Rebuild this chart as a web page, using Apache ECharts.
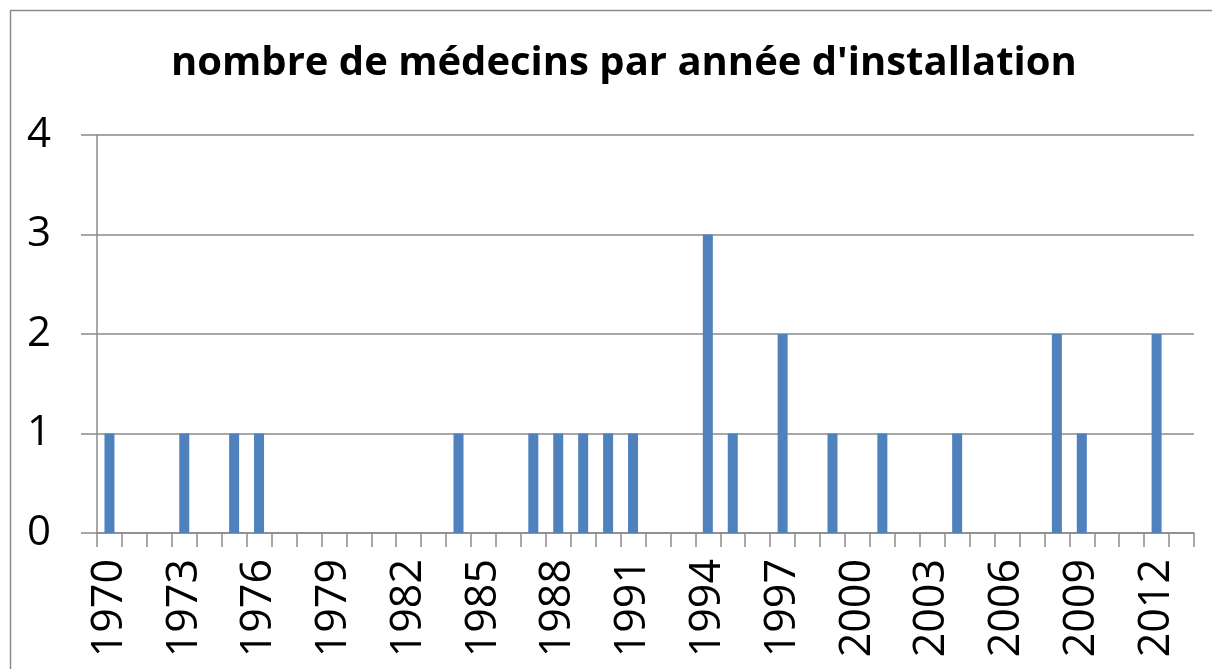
<!DOCTYPE html>
<html>
<head>
<meta charset="utf-8">
<script src="https://cdn.jsdelivr.net/npm/echarts@6/dist/echarts.min.js"></script>
<style>
  html, body { margin: 0; padding: 0; background: #fff; }
  #chart { width: 1212px; height: 669px; }
</style>
</head>
<body>
<div id="chart"></div>
<script>
const title = "nombre de médecins par année d'installation"
const years = []
for (let y = 1970; y <= 2013; y++) years.push(String(y))

// nombre de médecins installés chaque année (0 sinon)
const installs = {
  1970: 1, 1973: 1, 1975: 1, 1976: 1, 1984: 1,
  1987: 1, 1988: 1, 1989: 1, 1990: 1, 1991: 1,
  1994: 3, 1995: 1, 1997: 2, 1999: 1, 2001: 1,
  2004: 1, 2008: 2, 2009: 1, 2012: 2
}
const counts = years.map(y => installs[y] || 0)
const yTicks = [0, 1, 2, 3, 4]

const gridColor = '#8a8a8a'
const chart = echarts.init(document.getElementById('chart'))
chart.setOption({
  animation: false,
  title: {
    text: title,
    left: 166,
    top: 39,
    textStyle: {
      fontFamily: 'Open Sans',
      fontWeight: 'bold',
      fontSize: 40,
      color: '#000'
    }
  },
  graphic: [{
    type: 'rect',
    shape: {x: 10.5, y: 10.5, width: 1300, height: 800},
    style: {fill: 'none', stroke: '#8a8a8a', lineWidth: 1.5},
    silent: true
  }],
  grid: {left: 97, right: 18, top: 135, bottom: 136},
  xAxis: {
    type: 'category',
    data: years,
    boundaryGap: true,
    axisLine: {lineStyle: {color: gridColor, width: 1.5}},
    axisTick: {show: true, interval: 0, length: 14, lineStyle: {color: gridColor, width: 1.5}},
    axisLabel: {
      interval: 2,
      rotate: 90,
      margin: 26,
      fontFamily: 'Open Sans',
      fontSize: 43,
      color: '#000'
    }
  },
  yAxis: {
    type: 'value',
    min: yTicks[0],
    max: yTicks[yTicks.length - 1],
    interval: 1,
    axisLine: {show: true, lineStyle: {color: gridColor, width: 1.5}},
    axisTick: {show: true, inside: false, length: 16, lineStyle: {color: gridColor, width: 1.5}},
    splitLine: {lineStyle: {color: gridColor, width: 1.5}},
    axisLabel: {
      margin: 46,
      fontFamily: 'Open Sans',
      fontSize: 42,
      color: '#000'
    }
  },
  series: [{
    type: 'bar',
    data: counts,
    barWidth: 10,
    itemStyle: {color: '#4f81bd'}
  }]
})
</script>
</body>
</html>
